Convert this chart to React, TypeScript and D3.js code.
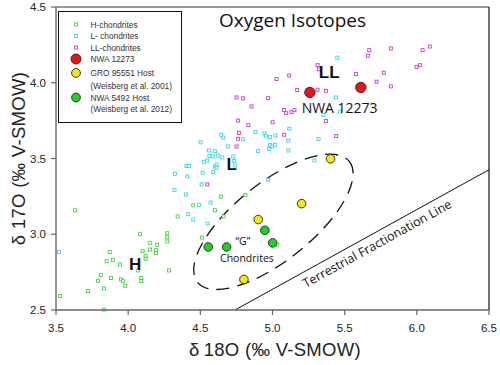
import { scaleLinear } from "d3";

const xTicks = [3.5, 4.0, 4.5, 5.0, 5.5, 6.0, 6.5];
const yTicks = [2.5, 3.0, 3.5, 4.0, 4.5];

// d18O, d17O pairs
const hChondrites: [number, number][] = [
  [3.632, 3.158], [3.528, 2.592], [3.722, 2.625], [3.832, 2.503], [3.791, 2.693],
  [3.81, 2.73], [3.832, 2.643], [3.851, 2.822], [3.872, 2.882], [3.881, 2.711],
  [3.893, 2.831], [3.943, 2.801], [3.95, 2.702], [3.964, 2.691], [3.98, 2.66],
  [4.07, 2.761], [4.082, 3.0], [4.091, 2.711], [4.091, 2.691], [4.1, 2.888],
  [4.121, 2.857], [4.121, 2.838], [4.151, 2.899], [4.153, 2.941], [4.193, 2.895],
  [4.193, 2.875], [4.199, 2.93], [4.271, 3.007], [4.271, 2.98], [4.271, 2.952],
  [4.283, 2.761], [4.343, 3.118], [4.451, 3.191], [4.511, 2.978], [4.601, 3.158],
  [4.643, 3.248], [4.661, 3.118], [4.812, 3.26], [5.033, 2.932],
];

const lChondrites: [number, number][] = [
  [3.521, 2.882], [4.321, 3.293], [4.324, 3.399], [4.404, 3.451], [4.421, 3.451],
  [4.409, 3.382], [4.4, 3.263], [4.416, 3.132], [4.451, 3.097], [4.49, 3.194],
  [4.501, 3.607], [4.509, 3.329], [4.516, 3.406], [4.525, 3.478], [4.548, 3.487],
  [4.551, 3.07], [4.56, 3.553], [4.563, 3.516], [4.571, 3.209], [4.589, 3.41],
  [4.589, 3.513], [4.601, 3.549], [4.601, 3.447], [4.613, 3.461], [4.613, 3.439],
  [4.624, 3.52], [4.645, 3.656], [4.652, 3.507], [4.659, 3.638], [4.691, 3.579],
  [4.728, 3.513], [4.735, 3.484], [4.74, 3.454], [4.797, 3.627], [4.882, 3.676],
  [4.901, 3.549], [4.944, 3.666], [4.954, 3.651], [4.982, 3.641], [4.982, 3.59],
  [4.998, 3.579], [5.017, 3.59], [5.02, 3.651], [4.97, 3.36], [4.977, 3.564],
  [5.109, 3.618], [5.109, 3.553], [5.117, 3.697], [5.29, 3.487], [5.319, 3.628],
  [5.352, 3.788], [5.439, 3.903], [5.449, 4.166], [5.467, 3.809],
];

const llChondrites: [number, number][] = [
  [4.548, 3.329], [4.751, 3.903], [4.797, 3.897], [4.855, 3.844], [4.97, 3.898],
  [4.762, 3.75], [4.832, 3.72], [4.767, 3.668], [4.762, 3.63], [4.751, 3.579],
  [5.001, 3.739], [5.028, 4.024], [5.116, 4.048], [5.079, 3.82], [5.095, 3.799],
  [5.132, 3.806], [5.152, 3.819], [5.171, 3.952], [5.081, 3.657], [5.312, 4.116],
  [5.321, 4.089], [5.312, 3.954], [5.37, 3.947], [5.37, 3.747], [5.441, 3.648],
  [5.578, 4.057], [5.661, 4.178], [5.67, 4.215], [5.721, 4.007], [5.771, 4.066],
  [5.82, 4.227], [5.82, 3.976], [5.998, 4.105], [6.021, 4.116], [6.04, 4.215],
  [6.09, 4.239],
];

const nwa12273: [number, number][] = [[5.259, 3.936], [5.612, 3.969]];
const gro95551: [number, number][] = [[5.402, 3.498], [5.202, 3.202], [4.901, 3.097], [4.802, 2.702]];
const nwa5492: [number, number][] = [[4.555, 2.916], [4.682, 2.916], [4.947, 3.026], [5.001, 2.943]];

// terrestrial fractionation line end points
const tfl: [number, number][] = [[4.74, 2.5], [6.5, 3.426]];

const legendLabels = [
  "H-chondrites",
  "L- chondrites",
  "LL-chondrites",
  "NWA 12273",
  "GRO 95551 Host",
  "(Weisberg et al. 2001)",
  "NWA 5492 Host",
  "(Weisberg et al. 2012)",
];

const W = 500;
const H = 365;
const left = 56;
const right = 489;
const top = 7;
const bottom = 310;

const sqColor = { h: "#48d048", l: "#3ad4e4", ll: "#c83cc8" };
const fontArial = "'Liberation Sans', Arial, sans-serif";
const fontMyriad = "'Open Sans', sans-serif";

export default function App() {
  const x = scaleLinear().domain([3.5, 6.5]).range([left, right]);
  const y = scaleLinear().domain([2.5, 4.5]).range([bottom, top]);

  const squares = (pts: [number, number][], color: string) =>
    pts.map(([a, b], i) => (
      <rect key={i} x={x(a) - 1.5} y={y(b) - 1.5} width={3} height={3} fill="white" stroke={color} strokeWidth={0.9} />
    ));
  const circles = (pts: [number, number][], color: string, r: number) =>
    pts.map(([a, b], i) => <circle key={i} cx={x(a)} cy={y(b)} r={r} fill={color} stroke="#222" strokeWidth={0.9} />);

  const tx0 = x(tfl[0][0]);
  const ty0 = y(tfl[0][1]);
  const tx1 = x(tfl[1][0]);
  const ty1 = y(tfl[1][1]);
  const tflAngle = (Math.atan2(ty1 - ty0, tx1 - tx0) * 180) / Math.PI;

  // dashed ellipse around the "G" chondrites
  const ellC = { cx: x(5.006), cy: y(3.082) };

  const legendRowY = [24.5, 36, 47.5, 59, 73, 86, 97.5, 109];

  return (
    <svg width={W} height={H} style={{ position: "absolute", left: 0, top: 0, background: "white" }}>
      {/* frame */}
      <line x1={left} y1={top} x2={right} y2={top} stroke="#333" strokeWidth={1} />
      <line x1={right} y1={top} x2={right} y2={bottom} stroke="#111" strokeWidth={1.2} />

      {/* TFL */}
      <line x1={tx0} y1={ty0} x2={tx1} y2={ty1} stroke="#111" strokeWidth={1} />
      <text
        transform={`translate(${x(5.231)},${y(2.645)}) rotate(${tflAngle})`}
        fontFamily={fontMyriad}
        fontSize={12.5}
        fill="#111"
      >
        Terrestrial Fractionation Line
      </text>

      <ellipse
        cx={ellC.cx}
        cy={ellC.cy}
        rx={97}
        ry={39}
        transform={`rotate(-38.5 ${ellC.cx} ${ellC.cy})`}
        fill="none"
        stroke="#111"
        strokeWidth={1.3}
        strokeDasharray="13 8"
      />

      {squares(hChondrites, sqColor.h)}
      {squares(lChondrites, sqColor.l)}
      {squares(llChondrites, sqColor.ll)}
      {circles(gro95551, "#f4e81c", 4.3)}
      {circles(nwa5492, "#1fd21f", 4.3)}
      {circles(nwa12273, "#e8141c", 5.2)}

      {/* annotations */}
      <text x={x(5.321)} y={y(4.033)} fontFamily={fontArial} fontWeight="bold" fontSize={17} fill="#111">LL</text>
      <text x={x(4.682)} y={y(3.421)} fontFamily={fontArial} fontWeight="bold" fontSize={17} fill="#111">L</text>
      <text x={x(4.006)} y={y(2.763)} fontFamily={fontArial} fontWeight="bold" fontSize={17} fill="#111">H</text>
      <text x={x(5.202)} y={y(3.803)} fontFamily={fontMyriad} fontSize={14} fill="#111">NWA 12273</text>
      <text x={x(4.795)} y={y(2.928)} textAnchor="middle" fontFamily={fontMyriad} fontSize={10.5} fill="#111">“G”</text>
      <text x={x(4.823)} y={y(2.816)} textAnchor="middle" fontFamily={fontMyriad} fontSize={10.5} fill="#111">Chondrites</text>
      <text x={292.5} y={27} textAnchor="middle" fontFamily={fontMyriad} fontSize={19} fill="#111">Oxygen Isotopes</text>

      {/* legend */}
      <rect x={58.5} y={11.5} width={123} height={111} fill="white" stroke="#111" strokeWidth={1} />
      {legendLabels.map((lab, i) => (
        <text key={lab} x={90.5} y={legendRowY[i] + 3} fontFamily={fontArial} fontSize={8.3} fill="#333">
          {lab}
        </text>
      ))}
      <rect x={74.5} y={legendRowY[0] - 1.5} width={3} height={3} fill="white" stroke={sqColor.h} strokeWidth={0.9} />
      <rect x={74.5} y={legendRowY[1] - 1.5} width={3} height={3} fill="white" stroke={sqColor.l} strokeWidth={0.9} />
      <rect x={74.5} y={legendRowY[2] - 1.5} width={3} height={3} fill="white" stroke={sqColor.ll} strokeWidth={0.9} />
      <circle cx={76} cy={legendRowY[3]} r={5} fill="#e8141c" stroke="#222" strokeWidth={0.9} />
      <circle cx={76} cy={legendRowY[4]} r={4.4} fill="#f4e81c" stroke="#222" strokeWidth={0.9} />
      <circle cx={76} cy={legendRowY[6]} r={4.4} fill="#1fd21f" stroke="#222" strokeWidth={0.9} />

      {/* axes */}
      <line x1={left} y1={top} x2={left} y2={bottom} stroke="#666" strokeWidth={1.4} />
      <line x1={left} y1={bottom} x2={right} y2={bottom} stroke="#666" strokeWidth={1.6} />
      {yTicks.map((t) => (
        <g key={t}>
          <line x1={left - 5} x2={left} y1={y(t)} y2={y(t)} stroke="#666" strokeWidth={1.2} />
          <text x={left - 10} y={y(t) + 4} textAnchor="end" fontFamily={fontArial} fontSize={11.5} fill="#222">
            {t.toFixed(1)}
          </text>
        </g>
      ))}
      {xTicks.map((t) => (
        <g key={t}>
          <line x1={x(t)} x2={x(t)} y1={bottom} y2={bottom + 5} stroke="#666" strokeWidth={1.2} />
          <text x={x(t)} y={331.5} textAnchor="middle" fontFamily={fontArial} fontSize={11.5} fill="#222">
            {t.toFixed(1)}
          </text>
        </g>
      ))}
      <text x={275} y={356} textAnchor="middle" fontFamily={fontArial} fontSize={18.5} letterSpacing={0.3} fill="#222">
        δ{"\u2009"}18O (‰ V-SMOW)
      </text>
      <text transform="translate(25,158.5) rotate(-90)" textAnchor="middle" fontFamily={fontArial} fontSize={18.5} letterSpacing={0.3} fill="#222">
        δ 17O (‰ V-SMOW)
      </text>
    </svg>
  );
}
